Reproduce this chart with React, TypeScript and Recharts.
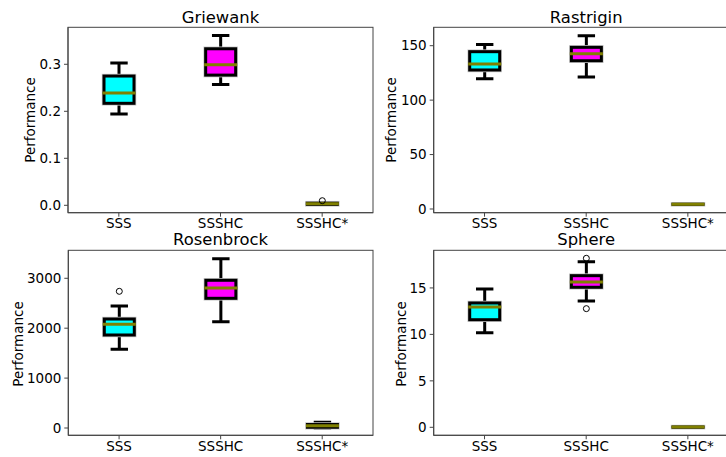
import React from 'react';
import { ComposedChart, Bar, XAxis, YAxis } from 'recharts';

const FONT = '"DejaVu Sans", sans-serif';

const categories = ['SSS', 'SSSHC', 'SSSHC*'];

// Griewank
const griewankLow = [0.194, 0.257, 0.0015];
const griewankQ1 = [0.217, 0.277, 0.002];
const griewankMedian = [0.239, 0.299, 0.0034];
const griewankQ3 = [0.275, 0.333, 0.0045];
const griewankHigh = [0.303, 0.361, 0.006];
const griewankOutliers = [[], [], [0.0098]];
const griewankTicks = [0, 0.1, 0.2, 0.3];

// Rastrigin
const rastriginLow = [119.7, 121.2, 4.2];
const rastriginQ1 = [127.7, 136.2, 4.25];
const rastriginMedian = [133.2, 142.6, 4.3];
const rastriginQ3 = [144.5, 148.5, 4.35];
const rastriginHigh = [151.2, 159.2, 4.4];
const rastriginOutliers = [[], [], []];
const rastriginTicks = [0, 50, 100, 150];

// Rosenbrock
const rosenbrockLow = [1577, 2130, 0];
const rosenbrockQ1 = [1864, 2599, 15];
const rosenbrockMedian = [2078, 2806, 45];
const rosenbrockQ3 = [2184, 2960, 70];
const rosenbrockHigh = [2445, 3393, 115];
const rosenbrockOutliers = [[2739], [], []];
const rosenbrockTicks = [0, 1000, 2000, 3000];

// Sphere
const sphereLow = [10.18, 13.6, 0.0];
const sphereQ1 = [11.58, 15.07, 0.01];
const sphereMedian = [12.95, 15.64, 0.02];
const sphereQ3 = [13.38, 16.32, 0.03];
const sphereHigh = [14.89, 17.83, 0.05];
const sphereOutliers = [[], [18.19, 12.77], []];
const sphereTicks = [0, 5, 10, 15];

const BOX_COLORS = ['#00ffff', '#ff00ff', '#00ffff'];
const MEDIAN_COLOR = '#808000';
const SPINE = '#444';

function makeRows(low: number[], q1: number[], med: number[], q3: number[], high: number[], out: number[][]) {
  return categories.map((name, i) => ({
    name,
    range: [low[i], high[i]],
    low: low[i],
    q1: q1[i],
    med: med[i],
    q3: q3[i],
    high: high[i],
    out: out[i],
  }));
}

const BoxShape = (props: any) => {
  const { x, y, width, height, payload, index } = props;
  if (!payload) return null;
  const top = Math.min(y, y + height);
  const bot = Math.max(y, y + height);
  const { low, high, q1, q3, med, out } = payload;
  const span = high - low || 1;
  const py = (v: number) => top + ((high - v) / span) * (bot - top);
  const cx = x + width / 2;
  const cap = width * 0.29;
  const yq1 = py(q1);
  const yq3 = py(q3);
  const ym = py(med);
  return (
    <g>
      <line x1={cx} x2={cx} y1={py(high)} y2={yq3} stroke="#000" strokeWidth={3} />
      <line x1={cx} x2={cx} y1={yq1} y2={py(low)} stroke="#000" strokeWidth={3} />
      <line x1={cx - cap} x2={cx + cap} y1={py(high)} y2={py(high)} stroke="#000" strokeWidth={3} />
      <line x1={cx - cap} x2={cx + cap} y1={py(low)} y2={py(low)} stroke="#000" strokeWidth={3} />
      <rect x={x} y={yq3} width={width} height={Math.max(0, yq1 - yq3)} fill="none" stroke="#c8c8c8" strokeWidth={4.5} />
      <rect x={x} y={yq3} width={width} height={Math.max(0, yq1 - yq3)} fill={BOX_COLORS[index % 3]} stroke="#000" strokeWidth={3} />
      <line x1={x - 1.5} x2={x + width + 1.5} y1={ym} y2={ym} stroke={MEDIAN_COLOR} strokeWidth={3} />
      {(out || []).map((v: number, k: number) => (
        <circle key={k} cx={cx} cy={py(v)} r={3} fill="none" stroke="#000" strokeWidth={1} />
      ))}
    </g>
  );
};

type PanelProps = {
  rows: any[];
  domain: [number, number];
  ticks: number[];
  fmt: (v: number) => string;
  left: number;
  top: number;
  plotLeft: number;
  plotTop: number;
  plotRight: number;
  plotBottom: number;
};

function Panel({ rows, domain, ticks, fmt, left, top, plotLeft, plotTop, plotRight, plotBottom }: PanelProps) {
  const marginRight = 5;
  const xAxisH = 25;
  const width = plotRight - left + marginRight;
  const height = plotBottom - top + xAxisH;
  const tickStyle = { fill: '#000', fontSize: 13.5, fontFamily: FONT };
  return (
    <div style={{ position: 'absolute', left, top, width, height }}>
      <ComposedChart
        width={width}
        height={height}
        data={rows}
        margin={{ top: plotTop - top, right: marginRight, bottom: 0, left: 0 }}
      >
        <XAxis
          dataKey="name"
          type="category"
          height={xAxisH}
          tick={tickStyle}
          tickSize={4}
          tickMargin={2}
          interval={0}
          axisLine={{ stroke: SPINE, strokeWidth: 1 }}
          tickLine={{ stroke: SPINE }}
        />
        <YAxis
          type="number"
          domain={domain}
          allowDataOverflow
          ticks={ticks}
          interval={0}
          tickFormatter={fmt}
          width={plotLeft - left}
          tick={tickStyle}
          tickSize={4}
          tickMargin={3}
          axisLine={{ stroke: SPINE, strokeWidth: 1 }}
          tickLine={{ stroke: SPINE }}
        />
        <Bar dataKey="range" barSize={30} shape={<BoxShape />} isAnimationActive={false} />
      </ComposedChart>
    </div>
  );
}

const griewankRows = makeRows(griewankLow, griewankQ1, griewankMedian, griewankQ3, griewankHigh, griewankOutliers);
const rastriginRows = makeRows(rastriginLow, rastriginQ1, rastriginMedian, rastriginQ3, rastriginHigh, rastriginOutliers);
const rosenbrockRows = makeRows(rosenbrockLow, rosenbrockQ1, rosenbrockMedian, rosenbrockQ3, rosenbrockHigh, rosenbrockOutliers);
const sphereRows = makeRows(sphereLow, sphereQ1, sphereMedian, sphereQ3, sphereHigh, sphereOutliers);

const titles = ['Griewank', 'Rastrigin', 'Rosenbrock', 'Sphere'];
const yLabel = 'Performance';

const FRAMES = [
  { x: 68, y: 27.3, w: 305, h: 185.4 },
  { x: 433.7, y: 27.3, w: 305, h: 185.4 },
  { x: 68.3, y: 250.3, w: 304.7, h: 185 },
  { x: 433.7, y: 250.3, w: 305, h: 185 },
];

export default function App() {
  return (
    <div
      style={{
        position: 'fixed',
        left: 0,
        top: 0,
        width: 726,
        height: 457,
        overflow: 'hidden',
        background: '#fff',
      }}
    >
      <Panel rows={griewankRows} domain={[-0.0157, 0.3787]} ticks={griewankTicks} fmt={(v) => v.toFixed(1)}
        left={0} top={0} plotLeft={68} plotTop={27.3} plotRight={373} plotBottom={212.7} />
      <Panel rows={rastriginRows} domain={[-3.4, 166.9]} ticks={rastriginTicks} fmt={(v) => String(v)}
        left={363} top={0} plotLeft={433.7} plotTop={27.3} plotRight={738.7} plotBottom={212.7} />
      <Panel rows={rosenbrockRows} domain={[-146, 3561]} ticks={rosenbrockTicks} fmt={(v) => String(v)}
        left={0} top={228} plotLeft={68.3} plotTop={250.3} plotRight={373} plotBottom={435.3} />
      <Panel rows={sphereRows} domain={[-0.86, 19.05]} ticks={sphereTicks} fmt={(v) => String(v)}
        left={363} top={228} plotLeft={433.7} plotTop={250.3} plotRight={738.7} plotBottom={435.3} />
      <svg width={726} height={457} style={{ position: 'absolute', left: 0, top: 0, pointerEvents: 'none' }}>
        {FRAMES.map((f, i) => (
          <rect key={i} x={f.x} y={f.y} width={f.w} height={f.h} fill="none" stroke={SPINE} strokeWidth={1} />
        ))}
        <g fontFamily={FONT} fill="#000">
          <text x={220.5} y={22.5} fontSize={16.4} textAnchor="middle">{titles[0]}</text>
          <text x={586.2} y={22.5} fontSize={16.4} textAnchor="middle">{titles[1]}</text>
          <text x={220.6} y={244.7} fontSize={16.4} textAnchor="middle">{titles[2]}</text>
          <text x={586.2} y={244.7} fontSize={16.4} textAnchor="middle">{titles[3]}</text>
          <text transform="translate(35,120) rotate(-90)" fontSize={13.5} textAnchor="middle">{yLabel}</text>
          <text transform="translate(396.3,120) rotate(-90)" fontSize={13.5} textAnchor="middle">{yLabel}</text>
          <text transform="translate(22.7,344) rotate(-90)" fontSize={13.5} textAnchor="middle">{yLabel}</text>
          <text transform="translate(405.7,344) rotate(-90)" fontSize={13.5} textAnchor="middle">{yLabel}</text>
        </g>
      </svg>
    </div>
  );
}
